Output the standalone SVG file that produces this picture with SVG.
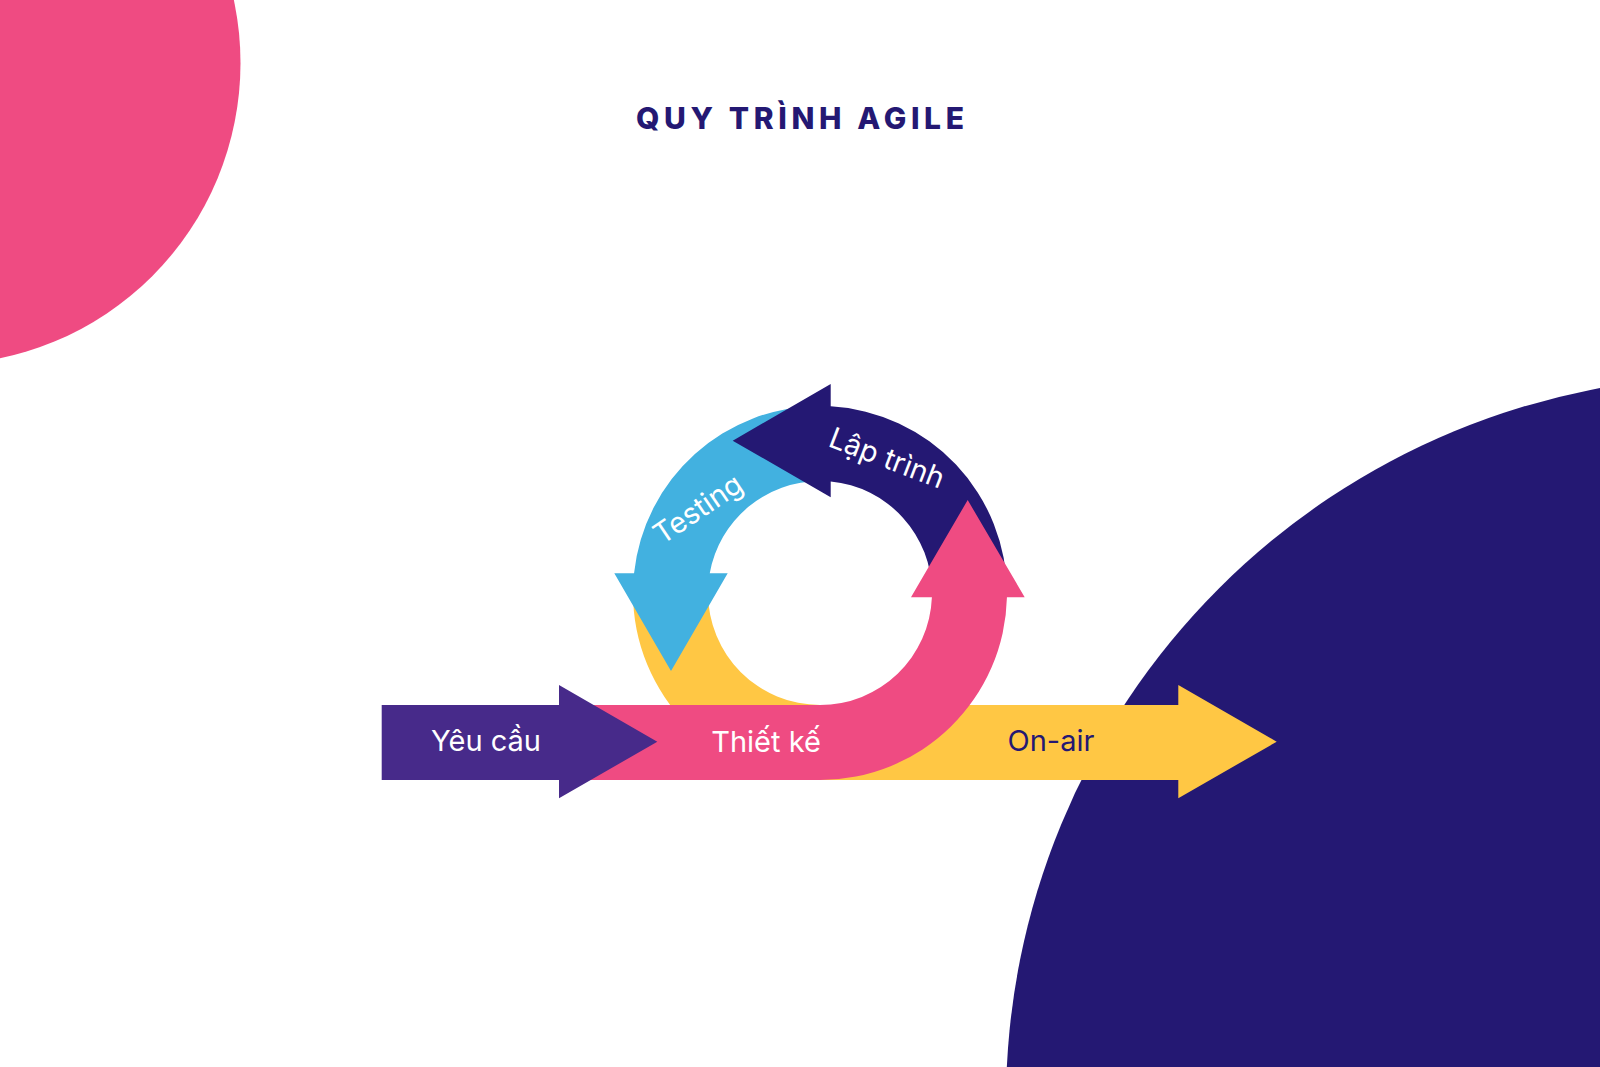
<svg xmlns="http://www.w3.org/2000/svg" width="1600" height="1067" viewBox="0 0 1600 1067">
  <style>
    .lbl { font-family: "Inter", "Noto Sans", "DejaVu Sans", sans-serif; font-size: 29px; text-anchor: middle; }
    .w { fill: #ffffff; }
    .n { fill: #241873; }
    .title { font-family: "Inter", "Noto Sans", "DejaVu Sans", sans-serif; font-size: 30px; font-weight: 800; fill: #241873; text-anchor: middle; }
  </style>
  <rect width="1600" height="1067" fill="#ffffff"/>
  <g id="background">
    <circle cx="-61" cy="63" r="301.5" fill="#EF4B82"/>
    <circle cx="1732" cy="1102" r="726" fill="#241873"/>
  </g>
  <g id="title">
    <text class="title" x="800" y="129" textLength="328" lengthAdjust="spacing">QUY TRÌNH AGILE</text>
  </g>
  <g id="on-air">
    <path d="M 633 593 A 187 187 0 0 0 820 780 L 1178.3 780 L 1178.3 798.3 L 1276.7 741.7 L 1178.3 685 L 1178.3 705 L 820 705 A 112 112 0 0 1 708 593 Z" fill="#FFC744"/>
    <text class="lbl n" x="1051" y="751">On-air</text>
  </g>
  <g id="testing">
    <path d="M 820 406 A 187 187 0 0 0 634.04 573.3 L 614.3 573.3 L 671 671 L 727.7 573.3 L 709.75 573.3 A 112 112 0 0 1 820 481 Z" fill="#42B1E0"/>
    <text class="lbl w" transform="translate(698 509) rotate(-34)" x="0" y="10">Testing</text>
  </g>
  <g id="lap-trinh">
    <path d="M 830.7 406.3 A 187 187 0 0 1 1007 593 L 932 593 A 112 112 0 0 0 830.7 481.5 L 830.7 497.3 L 732.7 440.7 L 830.7 384 Z" fill="#241873"/>
    <text class="lbl w" transform="translate(887 458) rotate(21)" x="0" y="10">Lập trình</text>
  </g>
  <g id="thiet-ke">
    <path d="M 559 705 L 820 705 A 112 112 0 0 0 931.9 597.3 L 911 597.3 L 967.7 500 L 1024.7 597.3 L 1006.95 597.3 A 187 187 0 0 1 820 780 L 559 780 Z" fill="#EF4B82"/>
    <text class="lbl w" x="766" y="752">Thiết kế</text>
  </g>
  <g id="yeu-cau">
    <path d="M 381.7 705 L 559 705 L 559 685 L 657.3 741.7 L 559 798.3 L 559 780 L 381.7 780 Z" fill="#472A8A"/>
    <text class="lbl w" x="486" y="751">Yêu cầu</text>
  </g>
  <g id="connectors"/>
</svg>
